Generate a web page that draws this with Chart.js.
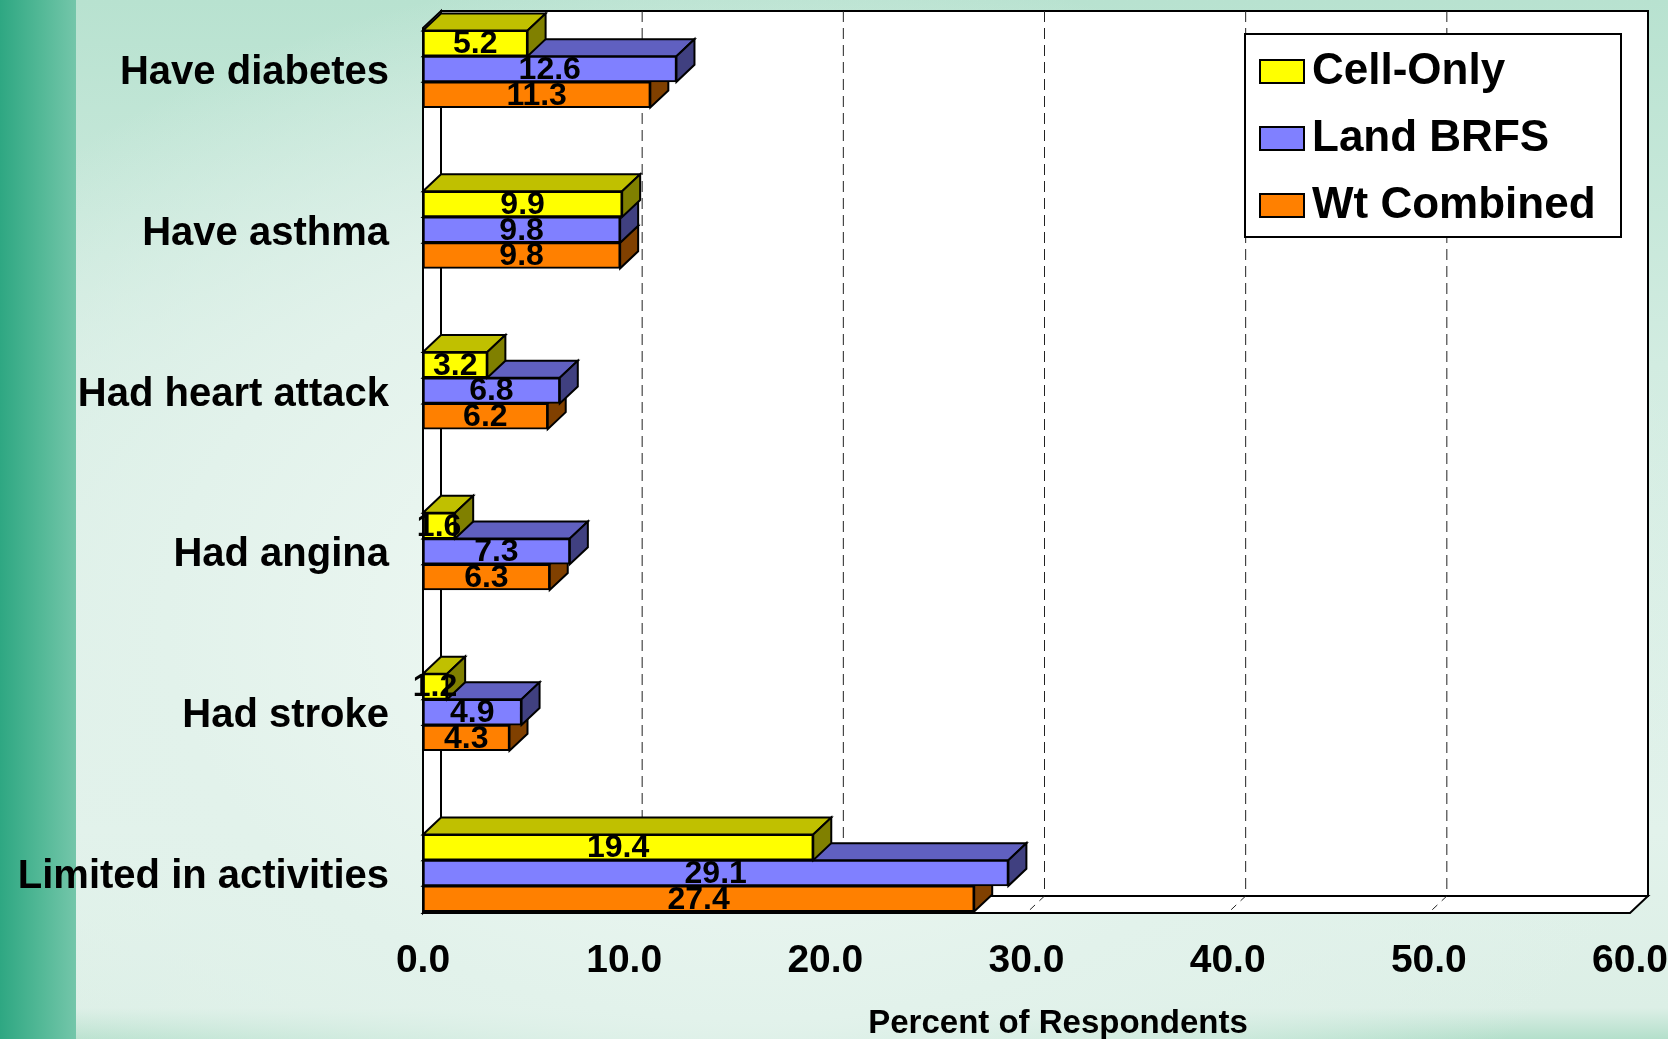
<!DOCTYPE html>
<html lang="en">
<head>
  <meta charset="UTF-8" />
  <title>Health Conditions by Sample</title>
  <script src="https://cdn.jsdelivr.net/npm/chart.js"></script>
  <style>
    html, body { margin: 0; padding: 0; }
    body {
      width: 1668px; height: 1039px; overflow: hidden;
      background:
        linear-gradient(to right, #2ea782 0px, #52b896 40px, #74c6aa 76px, rgba(0,0,0,0) 76px),
        radial-gradient(ellipse at 45% 60%, #f3faf6 0%, #e2f2eb 45%, rgba(226,242,235,0) 75%),
        linear-gradient(to bottom, #b8e2d0 0%, #d2ece1 35%, #e2f2eb 80%, #dcefe6 97%, #b4dfcb 100%);
    }
    #wrap { position: relative; width: 1668px; height: 1039px; }
  </style>
</head>
<body>
  <div id="wrap"><canvas id="chart" width="1668" height="1039"></canvas></div>

  <script>
    const categories = ['Have diabetes', 'Have asthma', 'Had heart attack', 'Had angina', 'Had stroke', 'Limited in activities'];
    const cellOnly   = [5.2, 9.9, 3.2, 1.6, 1.2, 19.4];
    const landBrfs   = [12.6, 9.8, 6.8, 7.3, 4.9, 29.1];
    const wtCombined = [11.3, 9.8, 6.2, 6.3, 4.3, 27.4];
    const xMin = 0, xMax = 60, xStep = 10;
    const xTitle = 'Percent of Respondents';

    // depth of the 3D effect
    const DX = 18, DY = 17;
    const FONT = '"Liberation Sans", Arial, sans-serif';

    function poly(ctx, pts, fill) {
      ctx.beginPath();
      ctx.moveTo(pts[0][0], pts[0][1]);
      for (let i = 1; i < pts.length; i++) ctx.lineTo(pts[i][0], pts[i][1]);
      ctx.closePath();
      if (fill) { ctx.fillStyle = fill; ctx.fill(); }
      ctx.strokeStyle = '#000';
      ctx.lineWidth = 2;
      ctx.stroke();
    }

    // back wall, side wall, floor and dashed grid
    const box3d = {
      id: 'box3d',
      beforeDatasetsDraw(chart) {
        const { ctx, chartArea, scales: { x } } = chart;
        const x0 = x.getPixelForValue(xMin), x1 = x.getPixelForValue(xMax);
        const top = 11, floor = chartArea.bottom + 40;
        ctx.save();
        poly(ctx, [[x0 + DX, top], [x1 + DX, top], [x1 + DX, floor - DY], [x0 + DX, floor - DY]], '#fff');
        ctx.setLineDash([11, 6]);
        ctx.strokeStyle = '#222';
        ctx.lineWidth = 1;
        for (let v = xMin + xStep; v < xMax; v += xStep) {
          const px = x.getPixelForValue(v);
          ctx.beginPath();
          ctx.moveTo(px + DX, top);
          ctx.lineTo(px + DX, floor - DY);
          ctx.stroke();
        }
        ctx.setLineDash([]);
        poly(ctx, [[x0, top + DY], [x0 + DX, top], [x0 + DX, floor - DY], [x0, floor]], '#fff');
        poly(ctx, [[x0, floor], [x0 + DX, floor - DY], [x1 + DX, floor - DY], [x1, floor]], '#fff');
        ctx.setLineDash([7, 6]);
        ctx.strokeStyle = '#222';
        ctx.lineWidth = 1;
        for (let v = xMin + xStep; v < xMax; v += xStep) {
          const px = x.getPixelForValue(v);
          ctx.beginPath();
          ctx.moveTo(px + DX, floor - DY);
          ctx.lineTo(px, floor);
          ctx.stroke();
        }
        ctx.restore();
      },
      // top and end faces, drawn just before each dataset's front faces
      beforeDatasetDraw(chart, args) {
        const ds = chart.data.datasets[args.index];
        const ctx = chart.ctx;
        ctx.save();
        args.meta.data.forEach(bar => {
          const { x, y, base, height } = bar.getProps(['x', 'y', 'base', 'height'], true);
          const t = y - height / 2, b = y + height / 2;
          poly(ctx, [[base, t], [base + DX, t - DY], [x + DX, t - DY], [x, t]], ds.topColor);
          poly(ctx, [[x, t], [x + DX, t - DY], [x + DX, b - DY], [x, b]], ds.sideColor);
        });
        ctx.restore();
      },
      afterDatasetsDraw(chart) {
        const ctx = chart.ctx;
        ctx.save();
        ctx.font = 'bold 32px ' + FONT;
        ctx.fillStyle = '#000';
        ctx.textAlign = 'center';
        ctx.textBaseline = 'middle';
        chart.data.datasets.forEach((ds, i) => {
          chart.getDatasetMeta(i).data.forEach((bar, j) => {
            const { x, y, base } = bar.getProps(['x', 'y', 'base'], true);
            ctx.fillText(ds.data[j].toFixed(1), (x + base) / 2, y + 1);
          });
        });
        ctx.restore();
      },
      afterDraw(chart) {
        const ctx = chart.ctx;
        ctx.save();
        // legend inside the plot
        poly(ctx, [[1245, 34], [1621, 34], [1621, 237], [1245, 237]], '#fff');
        ctx.font = 'bold 44px ' + FONT;
        ctx.textBaseline = 'middle';
        ctx.textAlign = 'left';
        chart.data.datasets.forEach((ds, i) => {
          const cy = 71 + i * 67;
          poly(ctx, [[1260, cy - 11], [1304, cy - 11], [1304, cy + 12], [1260, cy + 12]], ds.backgroundColor);
          ctx.fillStyle = '#000';
          ctx.fillText(ds.label, 1312, cy + 1);
        });
        // axis title, set right of the plot centre as in the original
        ctx.font = 'bold 33px ' + FONT;
        ctx.textAlign = 'center';
        ctx.fillText(xTitle, 1058, 1024);
        ctx.restore();
      }
    };

    new Chart(document.getElementById('chart'), {
      type: 'bar',
      data: {
        labels: categories,
        datasets: [
          { label: 'Cell-Only', data: cellOnly, backgroundColor: '#ffff00', topColor: '#c0c000', sideColor: '#808000' },
          { label: 'Land BRFS', data: landBrfs, backgroundColor: '#8080ff', topColor: '#6060c0', sideColor: '#404080' },
          { label: 'Wt Combined', data: wtCombined, backgroundColor: '#ff8000', topColor: '#c06000', sideColor: '#804000' }
        ].map(d => Object.assign(d, { borderColor: '#000', borderWidth: 2, borderSkipped: false, barThickness: 25.7, clip: false }))
      },
      options: {
        indexAxis: 'y',
        responsive: false,
        animation: false,
        layout: { padding: { top: 69, left: 0, right: 38, bottom: 0 } },
        plugins: { legend: { display: false }, tooltip: { enabled: false } },
        scales: {
          x: {
            min: xMin, max: xMax,
            grid: { display: false, drawTicks: false },
            border: { display: false },
            ticks: {
              stepSize: xStep, padding: 65, color: '#000',
              font: { family: FONT, size: 39, weight: 'bold' },
              callback: v => v.toFixed(1)
            },
            afterFit: s => { s.height = 166; s.paddingLeft = 0; s.paddingRight = 0; }
          },
          y: {
            offset: false,
            grid: { display: false, drawTicks: false },
            border: { display: false },
            ticks: { padding: 34, labelOffset: 4, color: '#000', font: { family: FONT, size: 40, weight: 'bold' } },
            afterFit: s => { s.width = 423; }
          }
        }
      },
      plugins: [box3d]
    });
  </script>
</body>
</html>
